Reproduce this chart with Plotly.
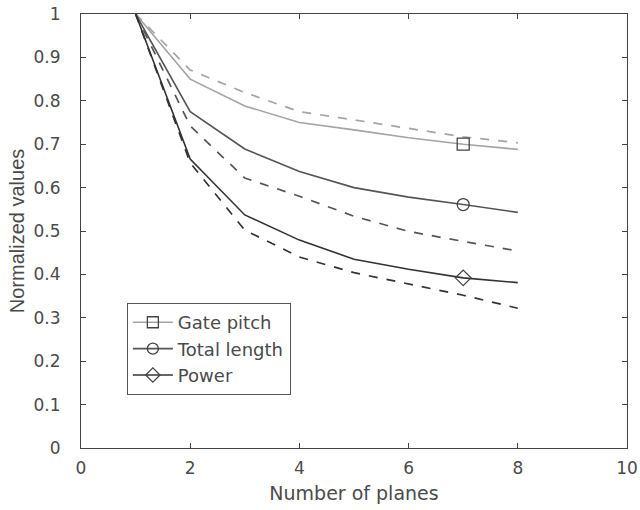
import plotly.graph_objects as go

planes = [1, 2, 3, 4, 5, 6, 7, 8]
gate_pitch = [1.0, 0.850, 0.788, 0.750, 0.733, 0.715, 0.700, 0.688]
gate_pitch_dash = [1.0, 0.871, 0.819, 0.775, 0.756, 0.737, 0.717, 0.703]
total_length = [1.0, 0.775, 0.689, 0.637, 0.600, 0.578, 0.561, 0.543]
total_length_dash = [1.0, 0.742, 0.622, 0.580, 0.534, 0.499, 0.476, 0.454]
power = [1.0, 0.666, 0.537, 0.479, 0.435, 0.412, 0.392, 0.381]
power_dash = [1.0, 0.657, 0.502, 0.440, 0.404, 0.378, 0.352, 0.322]

names = ["Gate pitch", "Total length", "Power"]
solids = [gate_pitch, total_length, power]
dashes = [gate_pitch_dash, total_length_dash, power_dash]
colors = ["#a4a4a4", "#555555", "#333333"]
symbols = ["square-open", "circle-open", "diamond-open"]
marker_x = 7
FONT = "DejaVu Sans, Liberation Sans, Arial, sans-serif"
FONT_Y = "Liberation Sans, Arial, sans-serif"
TXT = "#4a4a4a"

fig = go.Figure()
for name, s, d, c, sym in zip(names, solids, dashes, colors, symbols):
    fig.add_trace(go.Scatter(x=planes, y=d, mode="lines", line=dict(color=c, width=1.7, dash="dash"),
                             showlegend=False))
    fig.add_trace(go.Scatter(x=planes, y=s, mode="lines", line=dict(color=c, width=1.6),
                             showlegend=False))
    i = planes.index(marker_x)
    fig.add_trace(go.Scatter(x=[planes[i]], y=[s[i]], mode="markers",
                             marker=dict(symbol=sym, size=12, color="#444444", line=dict(width=1.3, color="#444444")),
                             showlegend=False))
    fig.add_trace(go.Scatter(x=[None], y=[None], mode="lines+markers", name=name,
                             line=dict(color=c, width=1.6),
                             marker=dict(symbol=sym, size=11, color="#444444", line=dict(width=1.3, color="#444444"))))

axis_common = dict(showline=True, linecolor="#444444", linewidth=1.2, mirror="allticks",
                   ticks="inside", ticklen=5, tickcolor="#444444", showgrid=False, zeroline=False,
                   automargin=False,
                   tickfont=dict(family=FONT, size=17, color=TXT))

fig.update_xaxes(range=[0, 10], tickvals=[0, 2, 4, 6, 8, 10], ticklabelstandoff=4,
                 title=dict(text="Number of planes", font=dict(family=FONT, size=19, color=TXT), standoff=10),
                 **axis_common)
fig.update_yaxes(range=[0, 1], tickvals=[0, 0.1, 0.2, 0.3, 0.4, 0.5, 0.6, 0.7, 0.8, 0.9, 1],
                 ticktext=["0", "0.1", "0.2", "0.3", "0.4", "0.5", "0.6", "0.7", "0.8", "0.9", "1"],
                 ticklabelstandoff=16,
                 title=dict(text="Normalized values", font=dict(family=FONT_Y, size=20, color=TXT), standoff=3),
                 **axis_common)

fig.update_layout(
    width=640, height=510,
    margin=dict(l=81, r=13, t=14, b=62),
    paper_bgcolor="white", plot_bgcolor="white",
    legend=dict(x=0.084, y=0.334, xanchor="left", yanchor="top",
                bgcolor="white", bordercolor="#555555", borderwidth=1,
                font=dict(family=FONT, size=18, color=TXT),
                tracegroupgap=0, itemwidth=40),
)

fig.write_html("out.html")
